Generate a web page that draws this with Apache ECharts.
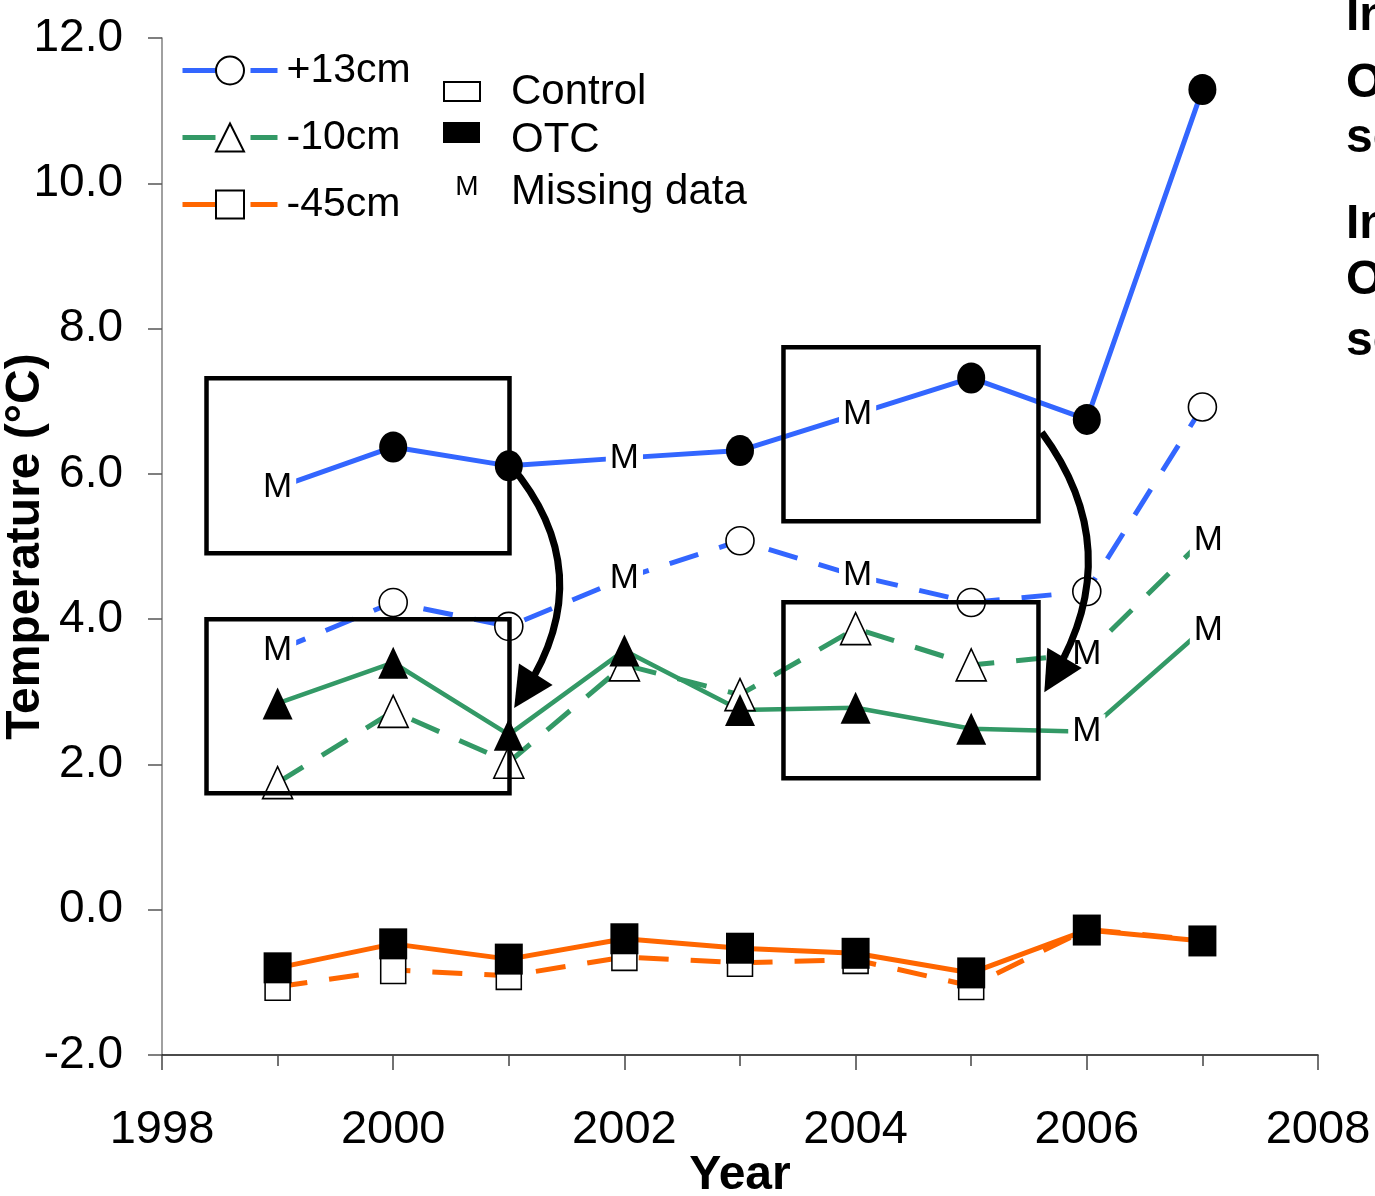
<!DOCTYPE html>
<html><head><meta charset="utf-8">
<script src="https://cdn.jsdelivr.net/npm/echarts@6/dist/echarts.min.js"></script>
<style>html,body{margin:0;padding:0;background:#fff}#c{width:1375px;height:1196px}</style>
</head><body><div id="c"></div>
<script>
// ---- data ----
const years = [1999, 2000, 2001, 2002, 2003, 2004, 2005, 2006, 2007];
const p13Control = [3.57, 4.23, 3.90, 4.56, 5.08, 4.60, 4.23, 4.38, 6.92];
const p13Otc     = [5.81, 6.37, 6.11, 6.22, 6.32, 6.82, 7.32, 6.75, 11.29];
const m10Control = [1.75, 2.73, 2.03, 3.37, 2.96, 3.87, 3.37, 3.52, 5.08];
const m10Otc     = [2.84, 3.40, 2.41, 3.57, 2.75, 2.78, 2.49, 2.45, 3.85];
const m45Control = [-1.06, -0.83, -0.91, -0.65, -0.73, -0.69, -1.05, -0.27, -0.42];
const m45Otc     = [-0.80, -0.47, -0.68, -0.40, -0.53, -0.60, -0.87, -0.28, -0.43];
// years whose value is marked "M" (missing data)
const p13ControlMissing = [1999, 2002, 2004];
const p13OtcMissing     = [1999, 2002, 2004];
const m10ControlMissing = [2006, 2007];
const m10OtcMissing     = [2006, 2007];
const seriesNames = ['+13cm', '-10cm', '-45cm'];
const treatmentNames = ['Control', 'OTC', 'Missing data'];
// annotation boxes: [x0, yTop, x1, yBottom]
const boxes = [
  [1998.385, 7.317, 2001.006, 4.907],
  [1998.385, 4.000, 2001.006, 1.604],
  [2003.376, 7.743, 2005.582, 5.348],
  [2003.376, 4.233, 2005.582, 1.810]
];
// curved arrows: [x0, y0, x1, y1, curveness]
const arrows = [
  [2001.01, 6.13, 2001.14, 3.01, 0.37],
  [2005.61, 6.57, 2005.72, 3.23, 0.33]
];
const sideText = [['Increase in', 'OTC', 'soil'], ['Increase in', 'OTC', 'soil']];

// ---- styles ----
const FONT = "'Liberation Sans', Arial, sans-serif";
const BLUE = '#3366ff', GREEN = '#339966', ORANGE = '#ff6600';
const DASH = [30, 22];
const mOffset = {2004: 2, 2007: 6};

function mkData(vals, missing) {
  return years.map((y, i) => {
    if (missing && missing.includes(y)) {
      return {
        value: [y, vals[i]], symbol: 'circle', symbolSize: 1,
        itemStyle: {color: 'rgba(0,0,0,0)', borderWidth: 0},
        label: {show: true, formatter: 'M', position: 'inside', offset: [mOffset[y] || 0, 0],
          fontSize: 35, fontFamily: FONT, color: '#000', backgroundColor: '#fff', padding: [0, 4]}
      };
    }
    return [y, vals[i]];
  });
}
function lineSeries(name, vals, missing, color, dashed, symbol, size, filled, lw) {
  return {
    name: name, type: 'line', data: mkData(vals, missing), z: 2,
    symbol: symbol, symbolSize: size, showAllSymbol: true,
    lineStyle: {color: color, width: lw || 5, type: dashed ? DASH : 'solid', cap: 'butt'},
    itemStyle: filled ? {color: '#000', borderColor: '#000', borderWidth: 0}
                      : {color: '#fff', borderColor: '#000', borderWidth: 1.6},
    emphasis: {disabled: true}, animation: false
  };
}

const series = [
  lineSeries(seriesNames[0], p13Control, p13ControlMissing, BLUE, true, 'circle', 28, false),
  lineSeries(seriesNames[0] + ' OTC', p13Otc, p13OtcMissing, BLUE, false, 'circle', [28, 31], true),
  lineSeries(seriesNames[1], m10Control, m10ControlMissing, GREEN, true, 'triangle', [30, 32], false),
  lineSeries(seriesNames[1] + ' OTC', m10Otc, m10OtcMissing, GREEN, false, 'triangle', [30, 32], true, 4.5),
  lineSeries(seriesNames[2], m45Control, null, ORANGE, true, 'rect', [25, 27], false),
  lineSeries(seriesNames[2] + ' OTC', m45Otc, null, ORANGE, false, 'rect', [28, 31], true),
  {
    type: 'custom', z: 10, silent: true, animation: false, clip: false,
    data: boxes, encode: {x: [0, 2], y: [1, 3]},
    renderItem: function (params, api) {
      const a = api.coord([api.value(0), api.value(1)]);
      const b = api.coord([api.value(2), api.value(3)]);
      return {type: 'rect',
        shape: {x: Math.min(a[0], b[0]), y: Math.min(a[1], b[1]), width: Math.abs(b[0] - a[0]), height: Math.abs(b[1] - a[1])},
        style: {fill: 'none', stroke: '#000', lineWidth: 4.5}};
    }
  },
  {
    type: 'lines', coordinateSystem: 'cartesian2d', z: 11, silent: true, animation: false,
    symbol: ['none', 'triangle'], symbolSize: [1, 40],
    lineStyle: {color: '#000', width: 7, opacity: 1, curveness: 0.35},
    data: arrows.map(a => ({coords: [[a[0], a[1]], [a[2], a[3]]], lineStyle: {curveness: a[4]}}))
  }
];

const graphics = [
  {type: 'rect', left: 443, top: 81, shape: {width: 36, height: 19}, style: {fill: '#fff', stroke: '#000', lineWidth: 2}},
  {type: 'rect', left: 443, top: 122, shape: {width: 37, height: 21}, style: {fill: '#000'}},
  {type: 'text', x: 467, y: 187, style: {text: 'M', font: '28px ' + FONT, fill: '#000', textAlign: 'center', textVerticalAlign: 'middle'}},
  {type: 'text', x: 511, y: 92, style: {text: treatmentNames[0], font: '42px ' + FONT, fill: '#000', textVerticalAlign: 'middle'}},
  {type: 'text', x: 511, y: 140, style: {text: treatmentNames[1], font: '42px ' + FONT, fill: '#000', textVerticalAlign: 'middle'}},
  {type: 'text', x: 511, y: 192, style: {text: treatmentNames[2], font: '42px ' + FONT, fill: '#000', textVerticalAlign: 'middle'}}
];
const sideY = [[17, 84, 139], [225, 281, 342]];
sideText.forEach((grp, gi) => grp.forEach((t, li) => {
  graphics.push({type: 'text', x: 1346, y: sideY[gi][li],
    style: {text: t, font: 'bold 48px ' + FONT, fill: '#000', textVerticalAlign: 'middle'}});
}));

const chart = echarts.init(document.getElementById('c'));
chart.setOption({
  animation: false,
  backgroundColor: '#fff',
  grid: {left: 162, right: 57, top: 38, bottom: 141, containLabel: false, outerBoundsMode: 'none'},
  xAxis: {
    type: 'value', min: 1998, max: 2008, interval: 2,
    name: 'Year', nameLocation: 'middle', nameGap: 97, nameMoveOverlap: false,
    nameTextStyle: {fontFamily: FONT, fontWeight: 'bold', fontSize: 48, color: '#000'},
    axisLine: {show: true, onZero: false, lineStyle: {color: '#111', width: 1.5}},
    axisTick: {show: true, length: 15, lineStyle: {color: '#444', width: 1.5}},
    minorTick: {show: true, splitNumber: 2, length: 11, lineStyle: {color: '#444', width: 1.5}},
    splitLine: {show: false}, minorSplitLine: {show: false},
    axisLabel: {fontFamily: FONT, fontSize: 47, color: '#000', margin: 52, formatter: v => String(v)}
  },
  yAxis: {
    type: 'value', min: -2, max: 12, interval: 2,
    name: 'Temperature (°C)', nameLocation: 'middle', nameGap: 112, nameRotate: 90, nameMoveOverlap: false,
    nameTextStyle: {fontFamily: FONT, fontWeight: 'bold', fontSize: 48, color: '#000'},
    axisLine: {show: true, onZero: false, lineStyle: {color: '#808080', width: 1.5}},
    axisTick: {show: true, length: 14, lineStyle: {color: '#555', width: 1.5}},
    splitLine: {show: false},
    axisLabel: {fontFamily: FONT, fontSize: 46, color: '#000', margin: 39, formatter: v => v.toFixed(1)}
  },
  legend: {
    data: seriesNames, orient: 'vertical', left: 180, top: 50, padding: 0,
    itemWidth: 95, itemHeight: 35, itemGap: 26, selectedMode: false,
    lineStyle: {type: [33, 35, 30], width: 5},
    textStyle: {fontFamily: FONT, fontSize: 41, color: '#000', padding: [10, 0, 0, 4]}
  },
  graphic: graphics,
  series: series
});
</script></body></html>
